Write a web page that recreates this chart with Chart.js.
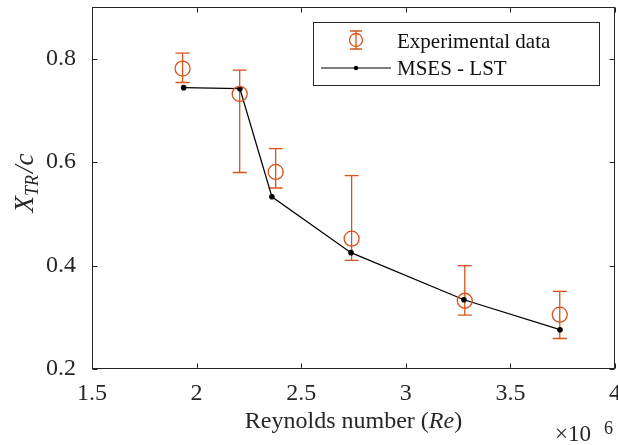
<!DOCTYPE html>
<html>
<head>
<meta charset="utf-8">
<script src="https://cdn.jsdelivr.net/npm/chart.js@4.4.0/dist/chart.umd.min.js"></script>
<style>
  html, body { margin: 0; padding: 0; background: #fff; }
  canvas { display: block; }
</style>
</head>
<body>
<canvas id="transitionChart" width="618" height="445"></canvas>
<script>
// Nombre de Reynolds (x 10^6) et position de transition mesurée
const reynolds = [1.933, 2.206, 2.378, 2.741, 3.282, 3.736];
const xtrExp = [0.781, 0.732, 0.581, 0.452, 0.332, 0.305];
const errHaut = [0.811, 0.778, 0.626, 0.574, 0.400, 0.350];
const errBas = [0.754, 0.580, 0.550, 0.410, 0.304, 0.259];
// Prédiction MSES - LST
const reynoldsMses = [1.938, 2.207, 2.360, 2.738, 3.278, 3.737];
const xtrMses = [0.744, 0.742, 0.533, 0.425, 0.334, 0.276];
// graduations
const ticksX = [1.5, 2, 2.5, 3, 3.5, 4];
const ticksY = [0.2, 0.4, 0.6, 0.8];

const ORANGE = '#D95319';
const GRIS = '#262626';
const police = '"Liberation Serif", "Times New Roman", serif';

// barres d'erreur dessinées avant les cercles
const barresErreur = {
    id: 'barresErreur',
    beforeDatasetsDraw(chart) {
        const ctx = chart.ctx, sx = chart.scales.x, sy = chart.scales.y;
        ctx.save();
        ctx.strokeStyle = ORANGE;
        ctx.lineWidth = 1.3;
        reynolds.forEach((r, i) => {
            const x = sx.getPixelForValue(r);
            const yh = sy.getPixelForValue(errHaut[i]);
            const yb = sy.getPixelForValue(errBas[i]);
            ctx.beginPath();
            ctx.moveTo(x, yh); ctx.lineTo(x, yb);
            ctx.moveTo(x - 7, yh); ctx.lineTo(x + 7, yh);
            ctx.moveTo(x - 7, yb); ctx.lineTo(x + 7, yb);
            ctx.stroke();
        });
        ctx.restore();
    }
};

// cadre, graduations vers l'intérieur, étiquettes, titres et légende
const cadre = {
    id: 'cadre',
    afterDraw(chart) {
        const ctx = chart.ctx, a = chart.chartArea;
        const sx = chart.scales.x, sy = chart.scales.y;
        ctx.save();
        ctx.strokeStyle = GRIS;
        ctx.lineWidth = 1;
        const l = Math.round(a.left) + 0.5, r = Math.round(a.right) - 0.5;
        const t = Math.round(a.top) + 0.5, b = Math.round(a.bottom) - 0.5;
        ctx.strokeRect(l, t, r - l, b - t);
        ctx.beginPath();
        ticksX.forEach(v => {
            const x = Math.round(sx.getPixelForValue(v)) + 0.5;
            ctx.moveTo(x, b); ctx.lineTo(x, b - 5);
            ctx.moveTo(x, t); ctx.lineTo(x, t + 5);
        });
        ticksY.forEach(v => {
            const y = Math.round(sy.getPixelForValue(v)) + 0.5;
            ctx.moveTo(l, y); ctx.lineTo(l + 5, y);
            ctx.moveTo(r, y); ctx.lineTo(r - 5, y);
        });
        ctx.stroke();

        // étiquettes des graduations
        ctx.fillStyle = GRIS;
        ctx.font = '24px ' + police;
        ctx.textBaseline = 'middle';
        ctx.textAlign = 'center';
        ticksX.forEach(v => ctx.fillText(String(v), sx.getPixelForValue(v), 394));
        ctx.textAlign = 'right';
        ticksY.forEach(v => ctx.fillText(v.toFixed(1), 76, sy.getPixelForValue(v)));
        ctx.textAlign = 'left';

        // titre axe x : Reynolds number (Re)
        ctx.textBaseline = 'alphabetic';
        const p1 = 'Reynolds number (', p2 = 'Re', p3 = ')';
        ctx.font = '24px ' + police;
        const w1 = ctx.measureText(p1).width, w3 = ctx.measureText(p3).width;
        ctx.font = 'italic 24px ' + police;
        const w2 = ctx.measureText(p2).width;
        let x0 = (a.left + a.right) / 2 - (w1 + w2 + w3) / 2;
        const yb = 428;
        ctx.font = '24px ' + police;
        ctx.fillText(p1, x0, yb);
        ctx.font = 'italic 24px ' + police;
        ctx.fillText(p2, x0 + w1, yb);
        ctx.font = '24px ' + police;
        ctx.fillText(p3, x0 + w1 + w2, yb);

        // facteur d'échelle x10^6
        ctx.font = '23px ' + police;
        ctx.fillText('\u00d710', 555, 441);
        ctx.font = '18px ' + police;
        ctx.fillText('6', 604, 434);

        // titre axe y : X_TR / c (rotation)
        ctx.save();
        ctx.translate(33, 183);
        ctx.rotate(-Math.PI / 2);
        ctx.font = 'italic 27px ' + police;
        const wx = ctx.measureText('X').width, wc = ctx.measureText('/c').width;
        ctx.font = 'italic 18px ' + police;
        const wtr = ctx.measureText('TR').width;
        let xs = -(wx + wtr + wc + 2) / 2;
        ctx.font = 'italic 27px ' + police;
        ctx.fillText('X', xs, 0);
        ctx.font = 'italic 18px ' + police;
        ctx.fillText('TR', xs + wx, 5);
        ctx.font = 'italic 27px ' + police;
        ctx.fillText('/c', xs + wx + wtr + 2, 0);
        ctx.restore();

        // légende
        ctx.fillStyle = '#fff';
        ctx.fillRect(313, 22, 286, 63);
        ctx.strokeStyle = GRIS;
        ctx.strokeRect(313.5, 22.5, 286, 63);
        ctx.strokeStyle = ORANGE;
        ctx.lineWidth = 1.3;
        ctx.beginPath();
        ctx.moveTo(356, 31); ctx.lineTo(356, 49);
        ctx.moveTo(350, 31); ctx.lineTo(362, 31);
        ctx.moveTo(350, 49); ctx.lineTo(362, 49);
        ctx.stroke();
        ctx.beginPath();
        ctx.arc(356, 40, 6.5, 0, 2 * Math.PI);
        ctx.stroke();
        ctx.strokeStyle = '#000';
        ctx.lineWidth = 1.2;
        ctx.beginPath();
        ctx.moveTo(321, 68); ctx.lineTo(391, 68);
        ctx.stroke();
        ctx.fillStyle = '#000';
        ctx.beginPath();
        ctx.arc(356, 68, 2.2, 0, 2 * Math.PI);
        ctx.fill();
        ctx.fillStyle = '#111';
        ctx.font = '21px ' + police;
        ctx.textBaseline = 'middle';
        ctx.fillText('Experimental data', 397, 42);
        ctx.fillText('MSES - LST', 397, 69);
        ctx.restore();
    }
};

const ptsExp = reynolds.map((r, i) => ({ x: r, y: xtrExp[i] }));
const ptsMses = reynoldsMses.map((r, i) => ({ x: r, y: xtrMses[i] }));

new Chart('transitionChart', {
    type: 'scatter',
    data: {
        datasets: [
            { label: 'Experimental data', data: ptsExp, pointStyle: 'circle', pointRadius: 7.5,
              borderColor: ORANGE, backgroundColor: 'rgba(0,0,0,0)', pointBorderWidth: 1.3, showLine: false },
            { label: 'MSES - LST', data: ptsMses, showLine: true, borderColor: '#000', borderWidth: 1.2,
              pointRadius: 2.2, pointBackgroundColor: '#000', pointBorderColor: '#000' }
        ]
    },
    options: {
        responsive: false,
        animation: false,
        devicePixelRatio: 1,
        layout: { autoPadding: false, padding: { left: 0, right: 3, top: 7, bottom: 0 } },
        plugins: { legend: { display: false }, tooltip: { enabled: false } },
        scales: {
            x: {
                type: 'linear', min: 1.5, max: 4,
                grid: { display: false, drawTicks: false },
                border: { display: false },
                ticks: { display: false },
                afterBuildTicks: s => { s.ticks = ticksX.map(v => ({ value: v })); },
                afterFit: s => { s.height = 76; }
            },
            y: {
                min: 0.2, max: 0.9,
                grid: { display: false, drawTicks: false },
                border: { display: false },
                ticks: { display: false },
                afterBuildTicks: s => { s.ticks = ticksY.map(v => ({ value: v })); },
                afterFit: s => { s.width = 92; }
            }
        }
    },
    plugins: [barresErreur, cadre]
});
</script>
</body>
</html>
